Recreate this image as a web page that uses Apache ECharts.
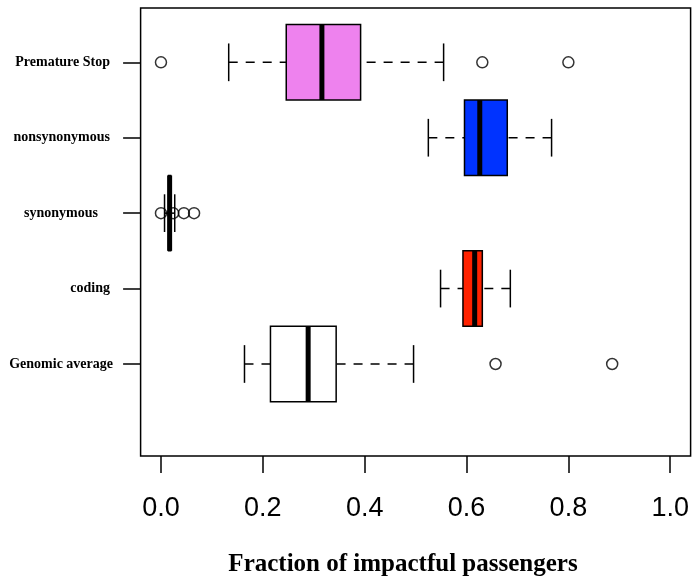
<!DOCTYPE html>
<html>
<head>
<meta charset="utf-8">
<script src="https://cdn.jsdelivr.net/npm/echarts@6/dist/echarts.min.js"></script>
<style>
html,body{margin:0;padding:0;background:#fff;}
#chart{width:692px;height:581px;}
</style>
</head>
<body>
<div id="chart"></div>
<script>
// ---- data ----
const categories = ['Genomic average', 'coding', 'synonymous', 'nonsynonymous', 'Premature Stop'];
const lowerWhisker  = [0.164, 0.549, 0.007, 0.525, 0.133];
const lowerQuartile = [0.215, 0.593, 0.015, 0.596, 0.246];
const medianValue   = [0.289, 0.616, 0.017, 0.626, 0.316];
const upperQuartile = [0.344, 0.631, 0.019, 0.680, 0.392];
const upperWhisker  = [0.496, 0.686, 0.027, 0.767, 0.555];
const outlierCategory = [0, 0, 2, 2, 2, 2, 4, 4, 4];
const outlierValue    = [0.657, 0.886, 0.0, 0.024, 0.045, 0.065, 0.0, 0.631, 0.80];
const xTickValues = [0, 0.2, 0.4, 0.6, 0.8, 1.0];
const xAxisTitle = 'Fraction of impactful passengers';

// ---- styles ----
const boxFill = ['#FFFFFF', '#FF2200', '#000000', '#0033FF', '#EE82EE'];
const labelPad = [0, 3, 15, 3, 3];

const chart = echarts.init(document.getElementById('chart'), null, {renderer: 'canvas'});

const boxData = categories.map((c, i) => [i + 1, lowerWhisker[i], lowerQuartile[i], medianValue[i], upperQuartile[i], upperWhisker[i]]);
const outlierData = outlierValue.map((v, i) => [v, outlierCategory[i] + 1]);

const rich = {};
categories.forEach((c, i) => {
  rich['k' + (i + 1)] = {
    fontFamily: 'Liberation Serif', fontWeight: 'bold', fontSize: 14, color: '#000',
    padding: [0, labelPad[i], 0, 0]
  };
});

function renderBox(params, api) {
  const y = api.value(0);
  const lw = api.value(1), q1 = api.value(2), md = api.value(3), q3 = api.value(4), hi = api.value(5);
  const P = (x, yy) => api.coord([x, yy]);
  const stroke = '#000';
  const dash = {stroke, lineWidth: 1.5, lineDash: [9, 8]};
  const solid = {stroke, lineWidth: 1.5};
  const top = P(q1, y + 0.5)[1], bot = P(q1, y - 0.5)[1];
  const capT = P(lw, y + 0.25)[1], capB = P(lw, y - 0.25)[1];
  const yc = P(lw, y)[1];
  const xl = P(lw, y)[0], x1 = P(q1, y)[0], xm = P(md, y)[0], x3 = P(q3, y)[0], xh = P(hi, y)[0];
  return {
    type: 'group',
    children: [
      {type: 'line', shape: {x1: xl, y1: yc, x2: x1, y2: yc}, style: dash},
      {type: 'line', shape: {x1: xh, y1: yc, x2: x3, y2: yc}, style: dash},
      {type: 'line', shape: {x1: xl, y1: capT, x2: xl, y2: capB}, style: solid},
      {type: 'line', shape: {x1: xh, y1: capT, x2: xh, y2: capB}, style: solid},
      {type: 'rect', shape: {x: x1, y: top, width: x3 - x1, height: bot - top},
        style: {fill: boxFill[params.dataIndex], stroke, lineWidth: 1.5}},
      {type: 'line', shape: {x1: xm, y1: top, x2: xm, y2: bot}, style: {stroke, lineWidth: 5, lineCap: 'butt'}}
    ]
  };
}

const option = {
  animation: false,
  backgroundColor: '#fff',
  grid: {
    left: 140.6, right: 1.3, top: 8, bottom: 125,
    show: true, borderColor: '#000', borderWidth: 1.5, backgroundColor: 'transparent'
  },
  xAxis: {
    type: 'value', min: -0.04, max: 1.04,
    axisLine: {show: false, onZero: false},
    splitLine: {show: false},
    axisTick: {show: true, customValues: xTickValues, length: 17, lineStyle: {color: '#000', width: 1.5}},
    axisLabel: {
      customValues: xTickValues,
      formatter: v => v.toFixed(1),
      fontFamily: 'Liberation Sans', fontSize: 27, color: '#000', margin: 39
    }
  },
  yAxis: {
    type: 'value', min: -0.22, max: 5.72,
    axisLine: {show: false, onZero: false},
    splitLine: {show: false},
    axisTick: {show: true, customValues: [1, 2, 3, 4, 5], length: 17.5, lineStyle: {color: '#000', width: 1.5}},
    axisLabel: {
      customValues: [1, 2, 3, 4, 5],
      formatter: v => '{k' + v + '|' + categories[v - 1] + '}',
      rich: rich,
      fontFamily: 'Liberation Serif', fontWeight: 'bold', fontSize: 14, color: '#000',
      margin: 27.6
    }
  },
  graphic: [{
    type: 'text',
    style: {
      text: xAxisTitle, x: 403, y: 565,
      textAlign: 'center', textVerticalAlign: 'middle',
      font: 'bold 25px "Liberation Serif"', fill: '#000'
    }
  }],
  series: [
    {
      type: 'custom',
      renderItem: renderBox,
      data: boxData,
      encode: {x: [1, 2, 3, 4, 5], y: 0},
      z: 2
    },
    {
      type: 'scatter',
      data: outlierData,
      symbol: 'circle',
      symbolSize: 11,
      itemStyle: {color: 'rgba(0,0,0,0)', borderColor: '#000', borderWidth: 1.5},
      z: 3
    }
  ]
};
chart.setOption(option);
</script>
</body>
</html>
